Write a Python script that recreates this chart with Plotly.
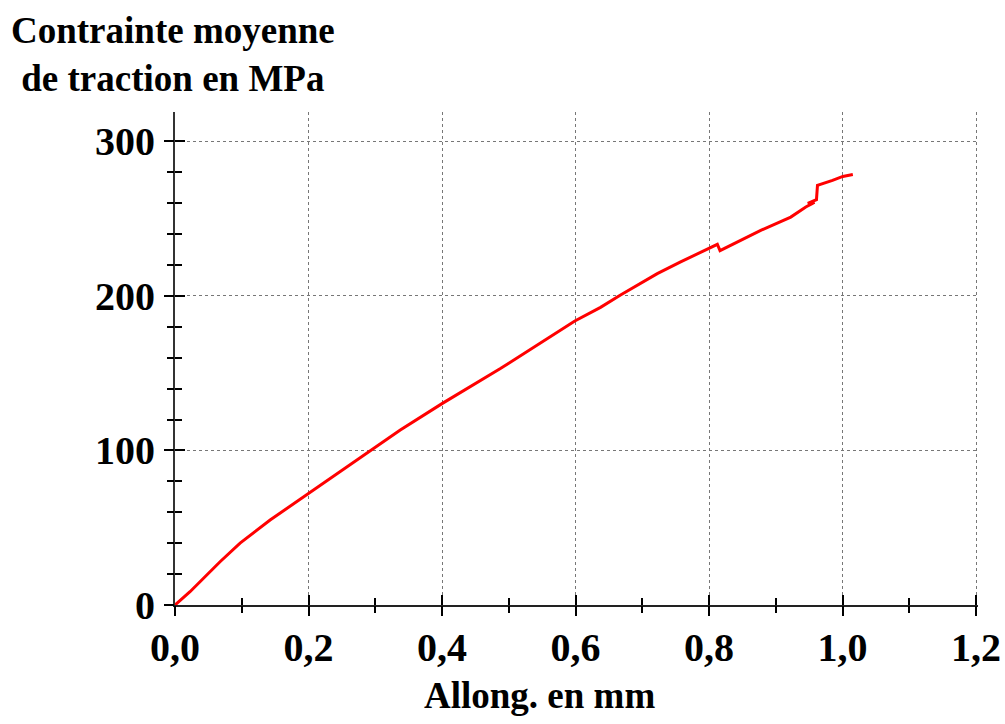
import plotly.graph_objects as go

# Data
allongement_mm = [0, 0.0225, 0.0675, 0.0975, 0.1425, 0.2, 0.2175, 0.2925, 0.3375, 0.4,
                  0.4875, 0.599, 0.6375, 0.6675, 0.7225, 0.7575, 0.799, 0.8125, 0.8165,
                  0.8325, 0.8775, 0.9225, 0.945, 0.958, 0.948, 0.961, 0.9625, 0.985,
                  1.0005, 1.0155]
contrainte_mpa = [0, 8.6, 28, 40, 55, 72.2, 77.6, 100, 113.2, 130.3,
                  153, 183.8, 192.6, 200.6, 214.4, 222, 230.6, 233.4, 229.3,
                  232.7, 242.4, 251, 257.5, 260.5, 259.8, 262.3, 271.5, 274.8,
                  277.3, 278.6]

x_tick_vals = [0, 0.2, 0.4, 0.6, 0.8, 1.0, 1.2]
x_tick_text = ["0,0", "0,2", "0,4", "0,6", "0,8", "1,0", "1,2"]
y_tick_vals = [0, 100, 200, 300]
y_tick_text = ["0", "100", "200", "300"]

FONT = "Liberation Serif"
tickfont = dict(family=FONT, size=40, color="black", weight="bold")

fig = go.Figure()
fig.add_trace(go.Scatter(x=allongement_mm, y=contrainte_mpa, mode="lines",
                         line=dict(color="#ff0000", width=3), showlegend=False,
                         hoverinfo="skip"))

xr = [0, 1.203]
yr = [0, 319]

fig.update_layout(
    width=1005, height=724,
    margin=dict(l=175, r=27, t=112, b=119),
    paper_bgcolor="white", plot_bgcolor="white",
    xaxis=dict(range=xr, tickvals=x_tick_vals, ticktext=x_tick_text, automargin=False,
               tickfont=tickfont, ticks="inside", ticklen=10, tickwidth=2,
               tickcolor="black", showline=True, linecolor="#222", linewidth=2,
               showgrid=True, gridcolor="#777", griddash="dot", gridwidth=1,
               zeroline=False, ticklabelstandoff=6,
               minor=dict(dtick=0.1, ticks="inside", ticklen=7, tickwidth=1.5,
                          tickcolor="black", showgrid=False)),
    yaxis=dict(range=yr, tickvals=y_tick_vals, ticktext=y_tick_text, automargin=False,
               tickfont=tickfont, ticks="inside", ticklen=10, tickwidth=2,
               tickcolor="black", showline=True, linecolor="#333", linewidth=2,
               showgrid=True, gridcolor="#777", griddash="dot", gridwidth=1,
               zeroline=False, ticklabelstandoff=10,
               minor=dict(dtick=20, ticks="inside", ticklen=7, tickwidth=1.5,
                          tickcolor="black", showgrid=False)),
    xaxis2=dict(overlaying="x", matches="x", anchor="y", side="bottom", automargin=False,
                range=xr, tickvals=x_tick_vals, showticklabels=False,
                ticks="outside", ticklen=10, tickwidth=2, tickcolor="black",
                showline=False, showgrid=False, zeroline=False,
                minor=dict(dtick=0.1, ticks="outside", ticklen=7, tickwidth=1.5,
                           tickcolor="black", showgrid=False)),
    yaxis2=dict(overlaying="y", matches="y", anchor="x", side="left", automargin=False,
                range=yr, tickvals=y_tick_vals, showticklabels=False,
                ticks="outside", ticklen=10, tickwidth=2, tickcolor="black",
                showline=False, showgrid=False, zeroline=False,
                minor=dict(dtick=20, ticks="outside", ticklen=7, tickwidth=1.5,
                           tickcolor="black", showgrid=False)),
    annotations=[
        dict(text="Contrainte moyenne<br>de traction en MPa", xref="paper", yref="paper",
             x=-0.0025, y=1.1176, xanchor="center", yanchor="middle", showarrow=False,
             font=dict(family=FONT, size=37, color="black", weight="bold"), align="center"),
        dict(text="Allong. en mm", xref="paper", yref="paper",
             x=0.4545, y=-0.1826, xanchor="center", yanchor="middle", showarrow=False,
             font=dict(family=FONT, size=37, color="black", weight="bold")),
    ],
)

# invisible trace to activate the overlay axes
fig.add_trace(go.Scatter(x=[None], y=[None], xaxis="x2", yaxis="y2", showlegend=False,
                         hoverinfo="skip"))

fig.write_html("out.html")
